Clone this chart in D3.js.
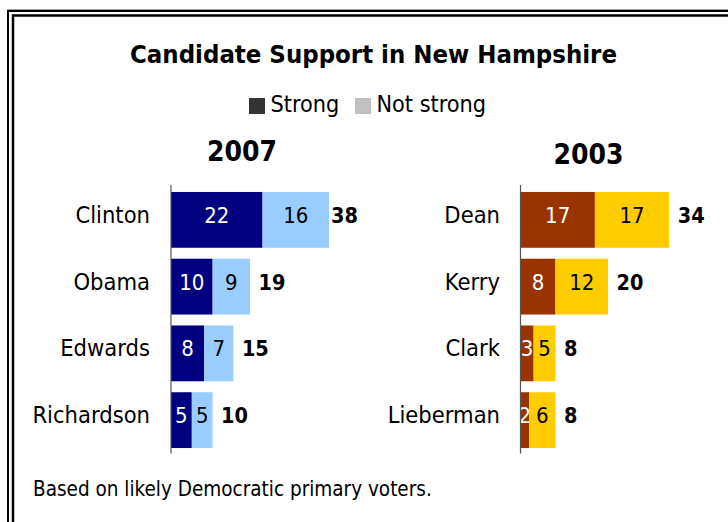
<!DOCTYPE html>
<html>
<head>
<meta charset="utf-8">
<script src="https://cdn.jsdelivr.net/npm/d3@7"></script>
<style>
  html, body { margin: 0; padding: 0; background: #fff; }
  svg { display: block; }
  text { font-family: "DejaVu Sans Condensed", "DejaVu Sans", sans-serif; font-stretch: condensed; }
</style>
</head>
<body>
<svg id="chart" width="728" height="522"></svg>
<script>
// Candidate support values (percent)
const candidates2007 = ["Clinton", "Obama", "Edwards", "Richardson"];
const strong2007 = [22, 10, 8, 5];
const notStrong2007 = [16, 9, 7, 5];
const total2007 = [38, 19, 15, 10];

const candidates2003 = ["Dean", "Kerry", "Clark", "Lieberman"];
const strong2003 = [17, 8, 3, 2];
const notStrong2003 = [17, 12, 5, 6];
const total2003 = [34, 20, 8, 8];

const seriesNames = ["Strong", "Not strong"];
const yearLabels = ["2007", "2003"];
const titleText = "Candidate Support in New Hampshire";
const noteText = "Based on likely Democratic primary voters.";

const svg = d3.select("#chart");

// Double-rule frame
const frame = svg.append("g");
frame.append("line").attr("x1", 7).attr("x2", 728).attr("y1", 9.5).attr("y2", 9.5)
  .attr("stroke", "#a0a0a0").attr("stroke-width", 1);
frame.append("path").attr("d", "M8,522V11H728").attr("fill", "none")
  .attr("stroke", "#000").attr("stroke-width", 2);
frame.append("path").attr("d", "M13,522V15.5H728").attr("fill", "none")
  .attr("stroke", "#000").attr("stroke-width", 2.5);

// Title
svg.append("text").attr("x", 373.5).attr("y", 62.5).attr("text-anchor", "middle")
  .attr("font-size", 25.5).attr("font-weight", "bold").attr("fill", "#000")
  .text(titleText);

// Legend
const legendColors = ["#333333", "#c0c0c0"];
const legendX = [249, 355];
const legend = svg.append("g");
seriesNames.forEach((name, i) => {
  legend.append("rect").attr("x", legendX[i]).attr("y", 98).attr("width", 16).attr("height", 16)
    .attr("fill", legendColors[i]);
  legend.append("text").attr("x", legendX[i] + 21.5).attr("y", 111.7)
    .attr("font-size", 23.2).attr("fill", "#000").text(name);
});

// Shared vertical band scale for both panels
function bandScale(names) {
  return d3.scaleBand().domain(names).range([186.5, 453.5])
    .paddingInner(0.164).paddingOuter(0.082);
}

function drawPanel(cfg) {
  const g = svg.append("g");
  const x = d3.scaleLinear().domain([0, 40]).range(cfg.xRange);
  const y = bandScale(cfg.names);
  const rows = cfg.names.map((n, i) => ({
    name: n, strong: cfg.strong[i], notStrong: cfg.notStrong[i], total: cfg.total[i]
  }));

  // year heading
  g.append("text").attr("x", cfg.yearX).attr("y", cfg.yearY).attr("text-anchor", "middle")
    .attr("font-size", 28).attr("font-weight", "bold").attr("fill", "#000").text(cfg.year);

  // stacked bars
  const row = g.selectAll("g.row").data(rows).join("g").attr("class", "row");
  row.append("rect")
    .attr("x", x(0)).attr("y", d => y(d.name))
    .attr("width", d => x(d.strong) - x(0)).attr("height", y.bandwidth())
    .attr("fill", cfg.colors[0]);
  row.append("rect")
    .attr("x", d => x(d.strong)).attr("y", d => y(d.name))
    .attr("width", d => x(d.strong + d.notStrong) - x(d.strong)).attr("height", y.bandwidth())
    .attr("fill", cfg.colors[1]);

  const mid = d => y(d.name) + y.bandwidth() / 2 + 3;

  // segment values
  row.append("text")
    .attr("x", d => (x(0) + x(d.strong)) / 2).attr("y", mid)
    .attr("text-anchor", "middle").attr("font-size", 22).attr("fill", "#fff")
    .text(d => d.strong);
  row.append("text")
    .attr("x", d => (x(d.strong) + x(d.strong + d.notStrong)) / 2).attr("y", mid)
    .attr("text-anchor", "middle").attr("font-size", 22).attr("fill", "#000")
    .text(d => d.notStrong);

  // totals, kept inside the panel's right edge
  row.append("text")
    .attr("y", mid).attr("font-size", 21.5).attr("font-weight", "bold").attr("fill", "#000")
    .text(d => d.total)
    .attr("x", function (d) {
      const w = this.getComputedTextLength();
      return Math.min(x(d.total) + 8.5, cfg.panelRight - w);
    });

  // category labels
  row.append("text")
    .attr("x", cfg.labelX).attr("y", mid).attr("text-anchor", "end")
    .attr("font-size", 23.5).attr("fill", "#000")
    .text(d => d.name);

  // vertical axis line
  g.append("line").attr("x1", x(0)).attr("x2", x(0)).attr("y1", 185).attr("y2", 453.5)
    .attr("stroke", "#555").attr("stroke-width", 1.2);
}

drawPanel({
  names: candidates2007, strong: strong2007, notStrong: notStrong2007, total: total2007,
  xRange: [171, 171 + 4.16 * 40], panelRight: 358, labelX: 150,
  colors: ["#000080", "#99ccff"], year: yearLabels[0], yearX: 242, yearY: 161
});

drawPanel({
  names: candidates2003, strong: strong2003, notStrong: notStrong2003, total: total2003,
  xRange: [520.5, 520.5 + 4.375 * 40], panelRight: 720, labelX: 500,
  colors: ["#993300", "#ffcc00"], year: yearLabels[1], yearX: 588.5, yearY: 164
});

// Footnote
svg.append("text").attr("x", 33).attr("y", 496).attr("font-size", 20.5).attr("fill", "#000")
  .text(noteText);
</script>
</body>
</html>
